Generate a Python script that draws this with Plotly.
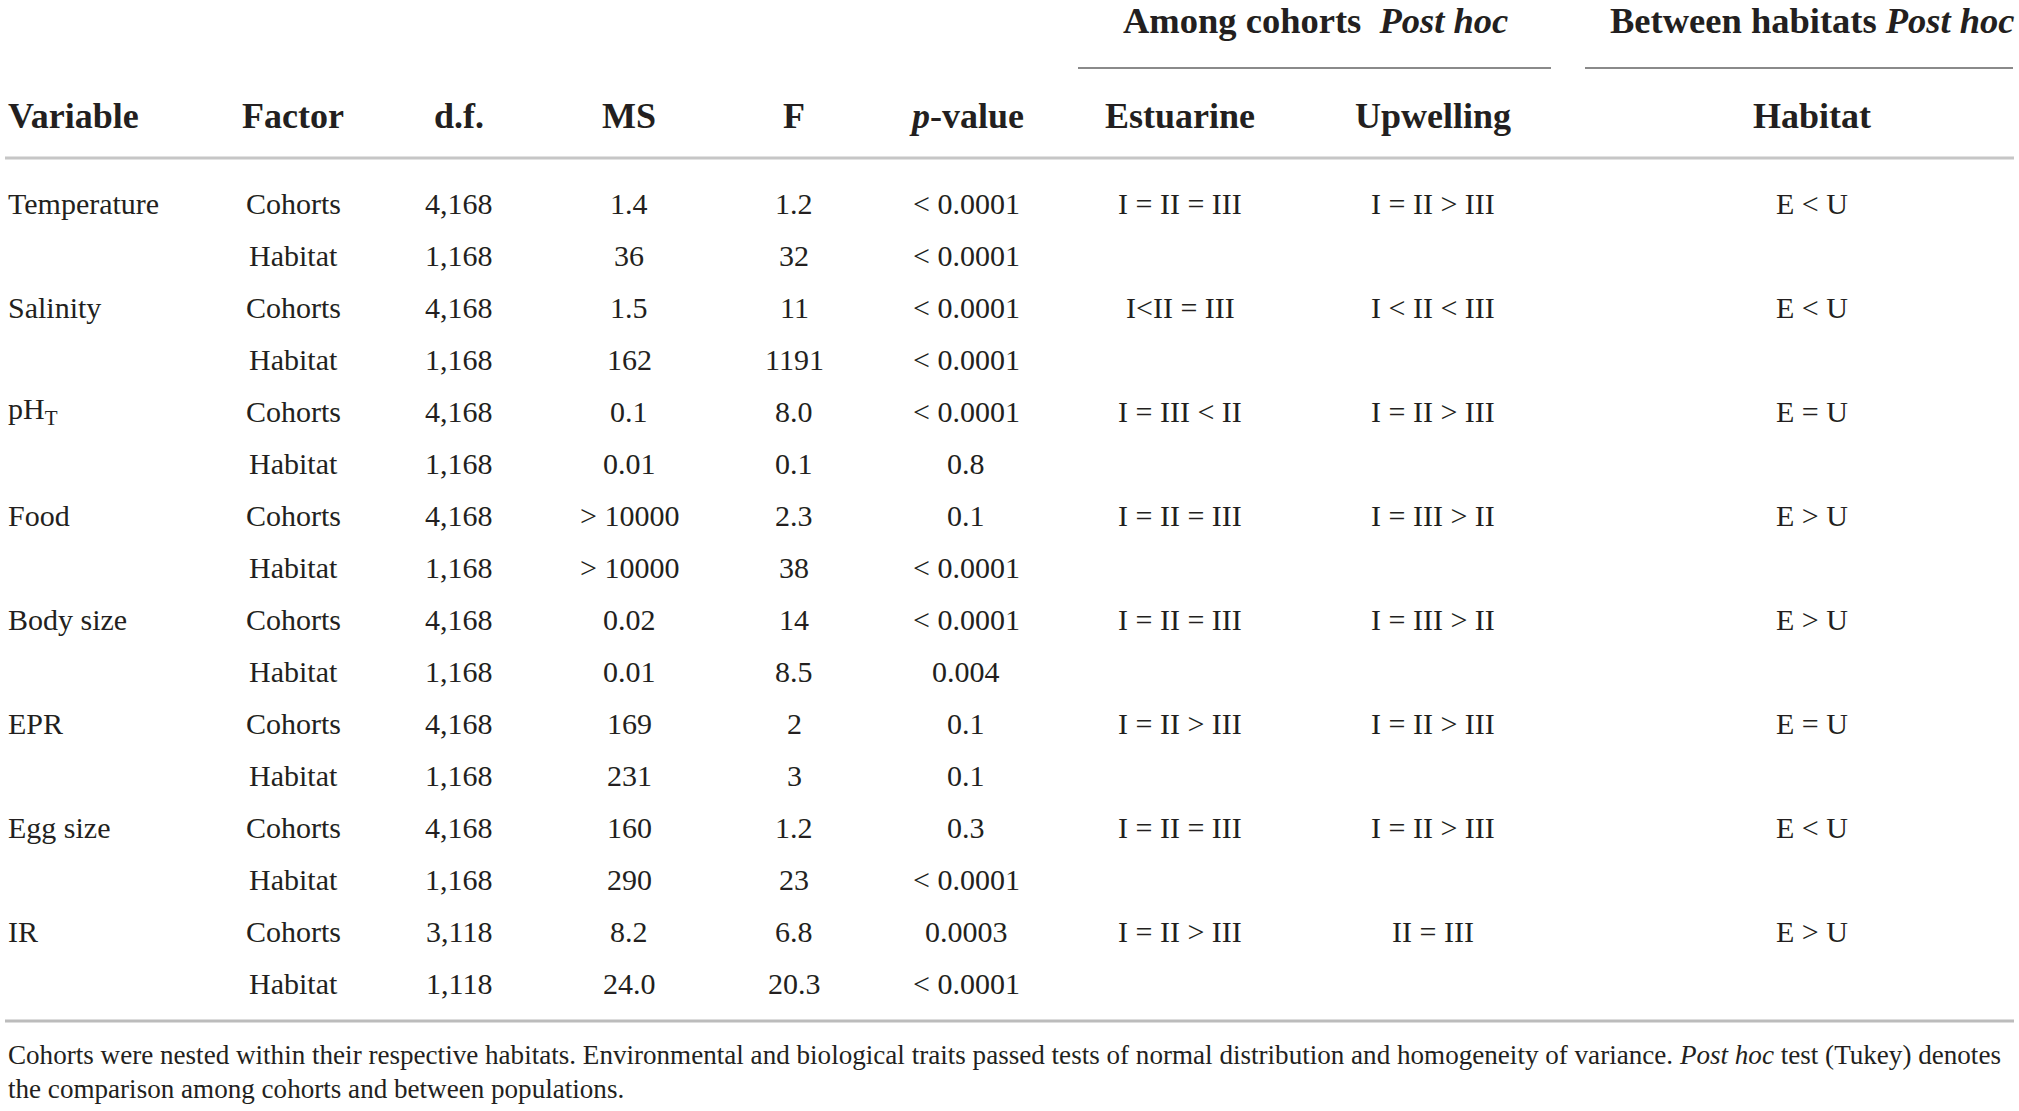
import plotly.graph_objects as go

# table contents
variables = ["Temperature", "Salinity", "pH<sub>T</sub>", "Food", "Body size", "EPR", "Egg size", "IR"]
factors = ["Cohorts", "Habitat"]
df_vals = ["4,168", "1,168", "4,168", "1,168", "4,168", "1,168", "4,168", "1,168",
           "4,168", "1,168", "4,168", "1,168", "4,168", "1,168", "3,118", "1,118"]
ms_vals = ["1.4", "36", "1.5", "162", "0.1", "0.01", "> 10000", "> 10000",
           "0.02", "0.01", "169", "231", "160", "290", "8.2", "24.0"]
f_vals = ["1.2", "32", "11", "1191", "8.0", "0.1", "2.3", "38",
          "14", "8.5", "2", "3", "1.2", "23", "6.8", "20.3"]
p_vals = ["< 0.0001", "< 0.0001", "< 0.0001", "< 0.0001", "< 0.0001", "0.8", "0.1", "< 0.0001",
          "< 0.0001", "0.004", "0.1", "0.1", "0.3", "< 0.0001", "0.0003", "< 0.0001"]
estuarine = ["I = II = III", "I<II = III", "I = III < II", "I = II = III",
             "I = II = III", "I = II > III", "I = II = III", "I = II > III"]
upwelling = ["I = II > III", "I < II < III", "I = II > III", "I = III > II",
             "I = III > II", "I = II > III", "I = II > III", "II = III"]
habitat_cmp = ["E < U", "E < U", "E = U", "E > U", "E > U", "E = U", "E < U", "E > U"]

headers = ["Variable", "Factor", "d.f.", "MS", "F", "<i>p</i>-value", "Estuarine", "Upwelling", "Habitat"]
group_headers = ["Among cohorts  <i>Post hoc</i>", "Between habitats <i>Post hoc</i>"]
footnote = ["Cohorts were nested within their respective habitats. Environmental and biological traits passed tests "
            "of normal distribution and homogeneity of variance. <i>Post hoc</i> test (Tukey) denotes",
            "the comparison among cohorts and between populations."]

W, H = 2019, 1111
FONT = "Liberation Serif"
INK = "#231f20"

col_x = [6, 293, 459, 629, 794, 966, 1180, 1433, 1812]
row_y0, row_step = 203, 52
head_y = 116

fig = go.Figure()
ann = []


def cell(x, y, text, size=30, anchor="center", bold=False):
    ann.append(dict(x=x, y=y, xref="x", yref="y", text=f"<b>{text}</b>" if bold else text,
                    showarrow=False, xanchor=anchor, yanchor="middle",
                    font=dict(family=FONT, size=size, color=INK)))


# headers
for i, h in enumerate(headers):
    cell(col_x[i], head_y, h, size=36, anchor="left" if i == 0 else "center", bold=True)
cell(1315, 20, group_headers[0], size=36.5, bold=True)
cell(1812, 20, group_headers[1], size=36.5, bold=True)

# body rows
for r in range(16):
    y = row_y0 + r * row_step
    v = r // 2
    if r % 2 == 0:
        cell(col_x[0], y, variables[v], anchor="left")
    cell(col_x[1], y, factors[r % 2])
    cell(col_x[2], y, df_vals[r])
    cell(col_x[3], y, ms_vals[r])
    cell(col_x[4], y, f_vals[r])
    cell(col_x[5], y, p_vals[r])
    if r % 2 == 0:
        cell(col_x[6], y, estuarine[v])
        cell(col_x[7], y, upwelling[v])
        cell(col_x[8], y, habitat_cmp[v])

# footnote
cell(6, 1055, footnote[0], size=27.1, anchor="left")
cell(6, 1089, footnote[1], size=27.1, anchor="left")

shapes = [
    dict(type="line", x0=1078, x1=1551, y0=68, y1=68, line=dict(color="#8a8a8a", width=2)),
    dict(type="line", x0=1585, x1=2013, y0=68, y1=68, line=dict(color="#8a8a8a", width=2)),
    dict(type="line", x0=5, x1=2014, y0=158, y1=158, line=dict(color="#c6c6c6", width=3)),
    dict(type="line", x0=5, x1=2014, y0=1021, y1=1021, line=dict(color="#bcbcbc", width=3)),
]

fig.update_layout(
    width=W, height=H,
    margin=dict(l=0, r=0, t=0, b=0),
    paper_bgcolor="white", plot_bgcolor="white",
    xaxis=dict(range=[0, W], visible=False, fixedrange=True),
    yaxis=dict(range=[H, 0], visible=False, fixedrange=True),
    annotations=ann, shapes=shapes, showlegend=False,
)

# drop the browser's default page margin so the figure sits at the top-left corner
fig.write_html("out.html", config=dict(displayModeBar=False),
               post_script="document.body.style.margin='0';document.body.style.overflow='hidden';")
